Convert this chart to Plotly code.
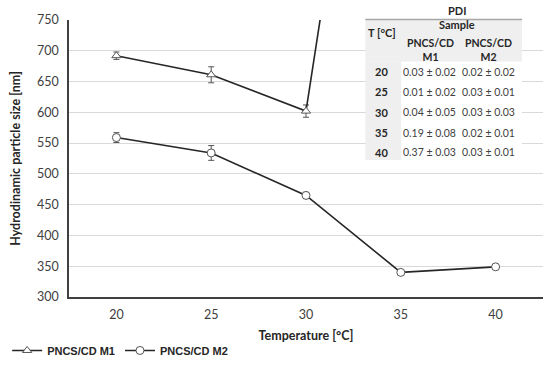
import plotly.graph_objects as go

# ---- data ----
temperature = [20, 25, 30, 35, 40]
m1_size = [692, 661, 602, 1600, 1900]      # 35 and 40 are off-scale (clipped at 750)
m1_err = [6, 13, 10, 0, 0]
m2_size = [559, 534, 465, 340, 349]
m2_err = [8, 12, 5, 2, 2]

table_temps = ["20", "25", "30", "35", "40"]
pdi_m1_mean = [0.03, 0.01, 0.04, 0.19, 0.37]
pdi_m1_sd = [0.02, 0.02, 0.05, 0.08, 0.03]
pdi_m2_mean = [0.02, 0.03, 0.03, 0.02, 0.03]
pdi_m2_sd = [0.02, 0.01, 0.03, 0.01, 0.01]

series_names = ["PNCS/CD M1", "PNCS/CD M2"]
x_ticks = [20, 25, 30, 35, 40]
y_ticks = [300, 350, 400, 450, 500, 550, 600, 650, 700, 750]

# ---- layout geometry ----
W, H = 550, 372
ML, MR, MT, MB = 68, 7, 20, 67
PW, PH = W - ML - MR, H - MT - MB

def px(x):
    return (x - ML) / PW

def py(y):
    return 1 - (y - MT) / PH

LINE = "#262626"
FONT = "Lato, Carlito, Calibri, sans-serif"

fig = go.Figure()
fig.add_trace(go.Scatter(
    x=temperature, y=m1_size, name=f"<b>{series_names[0]}</b>", mode="lines+markers",
    line=dict(color=LINE, width=1.6),
    marker=dict(symbol="triangle-up", size=8, color="white", line=dict(color="#555555", width=1)),
    error_y=dict(type="data", array=m1_err, color="#555555", thickness=1, width=3),
))
fig.add_trace(go.Scatter(
    x=temperature, y=m2_size, name=f"<b>{series_names[1]}</b>", mode="lines+markers",
    line=dict(color=LINE, width=1.6),
    marker=dict(symbol="circle", size=8, color="white", line=dict(color="#555555", width=1)),
    error_y=dict(type="data", array=m2_err, color="#555555", thickness=1, width=3),
))

# ---- PDI table (shapes + annotations) ----
tl, tr = 365, 522
shapes = [
    dict(type="rect", xref="paper", yref="paper", x0=px(tl), x1=px(tr), y0=py(63), y1=py(19),
         fillcolor="#efefef", line=dict(width=0), layer="above"),
    dict(type="rect", xref="paper", yref="paper", x0=px(tl), x1=px(401), y0=py(164), y1=py(63),
         fillcolor="#efefef", line=dict(width=0), layer="above"),
    dict(type="rect", xref="paper", yref="paper", x0=px(401), x1=px(tr), y0=py(164), y1=py(63),
         fillcolor="white", line=dict(width=0), layer="above"),
    dict(type="rect", xref="paper", yref="paper", x0=px(tl), x1=px(tr), y0=py(19), y1=py(0),
         fillcolor="white", line=dict(width=0), layer="above"),
    dict(type="line", xref="paper", yref="paper", x0=px(tl), x1=px(tr), y0=py(19.5), y1=py(19.5),
         line=dict(color="#a6a6a6", width=1.5), layer="above"),
]

ann = []
def txt(x, y, s, bold=False, size=11, color="#262626"):
    ann.append(dict(xref="paper", yref="paper", x=px(x), y=py(y), text=(f"<b>{s}</b>" if bold else s),
                    showarrow=False, xanchor="center", yanchor="middle",
                    font=dict(family=FONT, size=size, color=color)))

txt(457, 10, "PDI", bold=True, size=11)
txt(457, 25, "Sample", bold=True, size=11)
txt(382, 33, "T [°C]", bold=True, size=11)
txt(430, 51, f"{series_names[0].split()[0]}<br>{series_names[0].split()[1]}", bold=True, size=10.5)
txt(488, 51, f"{series_names[1].split()[0]}<br>{series_names[1].split()[1]}", bold=True, size=10.5)
row_y = [73, 94, 115, 136, 156]
for i, t in enumerate(table_temps):
    txt(381, row_y[i], t, bold=True, size=11)
    txt(429, row_y[i], f"{pdi_m1_mean[i]:.2f} ± {pdi_m1_sd[i]:.2f}", size=10.5, color="#404040")
    txt(488, row_y[i], f"{pdi_m2_mean[i]:.2f} ± {pdi_m2_sd[i]:.2f}", size=10.5, color="#404040")

fig.update_layout(
    width=W, height=H,
    margin=dict(l=ML, r=MR, t=MT, b=MB, pad=0),
    paper_bgcolor="white", plot_bgcolor="white",
    showlegend=True,
    legend=dict(orientation="h", x=px(6), y=py(360), xanchor="left", yanchor="middle",
                font=dict(family="Liberation Sans, Arial, sans-serif", size=11, color="#262626"),
                itemwidth=30, tracegroupgap=0, bgcolor="rgba(0,0,0,0)"),
    shapes=shapes,
    annotations=ann,
    font=dict(family=FONT, color="#404040"),
)
fig.update_xaxes(
    range=[17.5, 42.5], tickvals=x_ticks, ticks="", showgrid=False, automargin=False,
    ticklabelstandoff=5,
    showline=True, linecolor="#404040", linewidth=1.5, zeroline=False,
    tickfont=dict(family=FONT, size=12.5, color="#404040"),
    title=dict(text="<b>Temperature [°C]</b>", font=dict(family=FONT, size=12.5, color="#262626"), standoff=10),
)
fig.update_yaxes(
    range=[300, 750], tickvals=y_ticks, ticks="", showgrid=True, gridcolor="#d9d9d9", gridwidth=1,
    automargin=False, ticklabelstandoff=6,
    showline=True, linecolor="#404040", linewidth=1.5, zeroline=False,
    tickfont=dict(family=FONT, size=12.5, color="#404040"),
    title=dict(text="<b>Hydrodinamic particle size [nm]</b>", font=dict(family=FONT, size=12.5, color="#262626"), standoff=14),
)

fig.write_html(
    "out.html",
    config={"displayModeBar": False},
    post_script=(
        "document.documentElement.style.margin='0';"
        "document.body.style.margin='0';"
        "document.body.style.overflow='hidden';"
        "document.documentElement.style.overflow='hidden';"
    ),
)
